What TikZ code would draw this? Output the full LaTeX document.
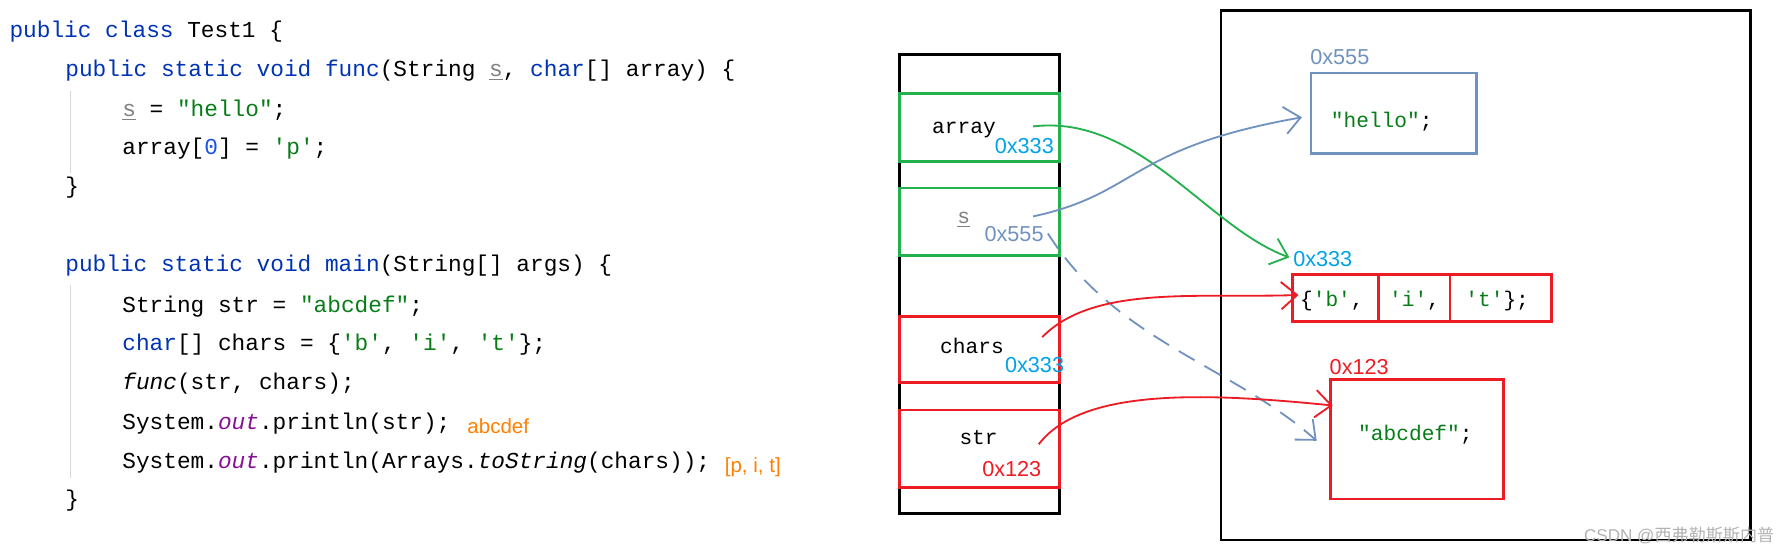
\documentclass[tikz,border=0pt]{standalone}
\usepackage{fontspec}
\setmainfont{Liberation Sans}
\setmonofont{Liberation Mono}
\newfontfamily\cjk{Noto Sans CJK SC}
\usetikzlibrary{arrows.meta}
\definecolor{kw}{RGB}{0,51,179}
\definecolor{str}{RGB}{6,125,23}
\definecolor{pur}{RGB}{135,16,148}
\definecolor{org}{RGB}{255,128,0}
\definecolor{gbox}{RGB}{34,177,76}
\definecolor{rbox}{RGB}{237,28,36}
\definecolor{bbox}{RGB}{112,146,190}
\definecolor{cy}{RGB}{0,162,232}
\definecolor{num}{RGB}{23,80,235}
\newcommand{\kwd}[1]{\textcolor{kw}{#1}}
\newcommand{\strg}[1]{\textcolor{str}{#1}}
\newcommand{\ulS}{\textcolor{gray}{\underline{s}}}
\begin{document}
\begin{tikzpicture}[x=0.5pt,y=-0.5pt,
 code/.style={anchor=base west,inner sep=0,font=\ttfamily\fontsize{10pt}{11pt}\selectfont},
 lab/.style={anchor=base west,inner sep=0,font=\ttfamily\fontsize{9.3pt}{10pt}\selectfont},
 addr/.style={anchor=base west,inner sep=0,font=\fontsize{9.5pt}{10pt}\selectfont},
 ann/.style={anchor=base west,inner sep=0,font=\fontsize{9pt}{10pt}\selectfont,text=org},
 box/.style={draw,line width=1.2pt},
 tip/.style={-{Straight Barb[length=7pt,width=12pt]}},
 link/.style={tip,line width=0.8pt}]
\useasboundingbox (0,0) rectangle (1568,485);
% code
\draw[gray!30,line width=0.6pt] (62,80) -- (62,152) (62,250) -- (62,420);
\node[code] (l1) at (8,33) {\kwd{public class} Test1 \{};
\node[code] (l2) at (57,67) {\kwd{public static void func}(String \ulS, \kwd{char}[] array) \{};
\node[code] (l3) at (107,102) {\ulS{} = \strg{"hello"};};
\node[code] (l4) at (107,136) {array[\textcolor{num}{0}] = \strg{'p'};};
\node[code] (l5) at (57,170) {\}};
\node[code] (l6) at (57,238) {\kwd{public static void main}(String[] args) \{};
\node[code] (l7) at (107,274) {String str = \strg{"abcdef"};};
\node[code] (l8) at (107,308) {\kwd{char}[] chars = \{\strg{'b'}, \strg{'i'}, \strg{'t'}\};};
\node[code] (l9) at (107,342) {\textit{func}(str, chars);};
\node[code] (l10) at (107,377) {System.\textcolor{pur}{\textit{out}}.println(str);};
\node[ann] (a1) at (410,381) {abcdef};
\node[code] (l11) at (107,411) {System.\textcolor{pur}{\textit{out}}.println(Arrays.\textit{toString}(chars));};
\node[ann] (a2) at (636,415) {[p, i, t]};
\node[code] (l12) at (57,445) {\}};
% stack
\draw[box] (790,48) rectangle (930,451);
\draw[box,gbox] (790,82) rectangle (930,142);
\draw[box,gbox] (790,165) rectangle (930,224);
\draw[box,rbox] (790,278) rectangle (930,336);
\draw[box,rbox] (790,360) rectangle (930,428);
\node[lab] (va) at (818,117) {array};
\node[addr,text=cy] (aa) at (873,135) {0x333};
\node[lab] (vs) at (840,196) {\ulS};
\node[addr,text=bbox] (as) at (864,212) {0x555};
\node[lab] (vc) at (825,310) {chars};
\node[addr,text=cy] (ac) at (882,327) {0x333};
\node[lab] (vr) at (842,390) {str};
\node[addr,text=rbox] (ar) at (862,418) {0x123};
% heap
\draw[box] (1072,9) rectangle (1537,474);
\draw[box,bbox] (1151,64) rectangle (1296,135);
\node[lab,text=str] (th) at (1168,112) {"hello"\textcolor{black}{;}};
\node[addr,text=bbox] (hh) at (1150,57) {0x555};
\draw[box,rbox] (1135,241) rectangle (1362,282);
\draw[box,rbox] (1210,241) -- (1210,282) (1273,241) -- (1273,282);
\node[lab] (ta) at (1141,269) {\{\strg{'b'},\ \ \strg{'i'},\ \ \strg{'t'}\};};
\node[addr,text=cy] (ha) at (1135,234) {0x333};
\draw[box,rbox] (1168,333) rectangle (1320,438);
\node[lab,text=str] (tc) at (1192,387) {"abcdef"\textcolor{black}{;}};
\node[addr,text=rbox] (hc) at (1167,329) {0x123};
\node[anchor=south east,inner sep=2pt,font=\fontsize{7.5pt}{8pt}\selectfont,text=gray!60] (wm) at (1562,482) {CSDN @{\cjk 西弗勒斯斯内普}};
% links
\coordinate (g0) at (907,111); \coordinate (g1) at (1132,226);
\draw[link,gbox] (g0) .. controls (1000,100) and (1060,200) .. (g1);
\coordinate (b0) at (907,190); \coordinate (b1) at (1143,103);
\draw[link,bbox] (b0) .. controls (1000,170) and (990,130) .. (b1);
\coordinate (d0) at (920,205); \coordinate (d1) at (1156,387);
\draw[link,bbox,dash pattern=on 8pt off 5pt] (d0) .. controls (980,300) and (1080,320) .. (d1);
\coordinate (c0) at (915,296); \coordinate (c1) at (1140,259);
\draw[link,rbox] (c0) .. controls (960,250) and (1050,262) .. (c1);
\coordinate (s0) at (912,390); \coordinate (s1) at (1170,356);
\draw[link,rbox] (s0) .. controls (950,340) and (1060,345) .. (s1);
\end{tikzpicture}
\end{document}
